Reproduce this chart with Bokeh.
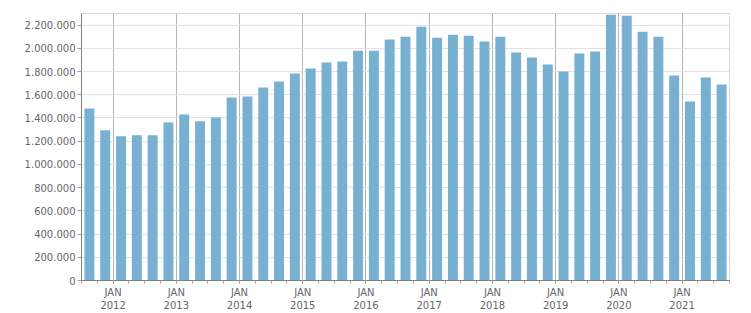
from bokeh.plotting import figure
from bokeh.models import ColumnDataSource, FixedTicker, Range1d
from bokeh.embed import file_html
from bokeh.resources import INLINE

# Quarterly values, Q3 2011 .. Q3 2021
quarters = [
    "2011Q3", "2011Q4",
    "2012Q1", "2012Q2", "2012Q3", "2012Q4",
    "2013Q1", "2013Q2", "2013Q3", "2013Q4",
    "2014Q1", "2014Q2", "2014Q3", "2014Q4",
    "2015Q1", "2015Q2", "2015Q3", "2015Q4",
    "2016Q1", "2016Q2", "2016Q3", "2016Q4",
    "2017Q1", "2017Q2", "2017Q3", "2017Q4",
    "2018Q1", "2018Q2", "2018Q3", "2018Q4",
    "2019Q1", "2019Q2", "2019Q3", "2019Q4",
    "2020Q1", "2020Q2", "2020Q3", "2020Q4",
    "2021Q1", "2021Q2", "2021Q3",
]
values = [
    1482000, 1294000,
    1242000, 1251000, 1251000, 1362000,
    1431000, 1371000, 1405000, 1577000,
    1585000, 1663000, 1714000, 1783000,
    1826000, 1877000, 1886000, 1980000,
    1980000, 2075000, 2100000, 2186000,
    2092000, 2118000, 2109000, 2058000,
    2100000, 1963000, 1920000, 1860000,
    1800000, 1955000, 1972000, 2289000,
    2281000, 2143000, 2100000, 1766000,
    1543000, 1748000, 1688000,
]
year_labels = ["2012", "2013", "2014", "2015", "2016", "2017", "2018", "2019", "2020", "2021"]
y_ticks = [0, 200000, 400000, 600000, 800000, 1000000, 1200000, 1400000,
           1600000, 1800000, 2000000, 2200000]
y_tick_labels = ["0", "200.000", "400.000", "600.000", "800.000", "1.000.000",
                 "1.200.000", "1.400.000", "1.600.000", "1.800.000", "2.000.000", "2.200.000"]

# x coordinate: quarter index since 2011-07-01, bar at mid-quarter
xs = [i + 0.5 for i in range(len(quarters))]
source = ColumnDataSource(data=dict(x=xs, top=values, q=quarters))

jan_pos = [2 + 4 * i for i in range(len(year_labels))]

p = figure(width=751, height=313, output_backend="svg", toolbar_location=None,
           x_range=Range1d(0, len(quarters)), y_range=Range1d(0, 2300000),
           min_border_left=81, min_border_right=22, min_border_top=13, min_border_bottom=30)

p.vbar(x="x", top="top", width=0.63, source=source, color="#78b0d2", line_color=None)

TEXT = "#66666e"
FONT = "DejaVu Sans"

# x axis
xa = p.xaxis[0]
xa.ticker = FixedTicker(ticks=jan_pos, minor_ticks=list(range(0, len(quarters) + 1)))
xa.major_label_overrides = {pos: "JAN\n" + yl for pos, yl in zip(jan_pos, year_labels)}
xa.major_label_text_font = FONT
xa.major_label_text_font_size = "10px"
xa.major_label_text_color = TEXT
xa.major_label_standoff = 3
xa.axis_line_color = "#808080"
xa.major_tick_line_color = "#a0a0a0"
xa.minor_tick_line_color = "#a0a0a0"
xa.major_tick_in = 0
xa.major_tick_out = 3
xa.minor_tick_in = 0
xa.minor_tick_out = 3

# y axis
ya = p.yaxis[0]
ya.ticker = FixedTicker(ticks=y_ticks, minor_ticks=[])
ya.major_label_overrides = {t: l for t, l in zip(y_ticks, y_tick_labels)}
ya.major_label_text_font = FONT
ya.major_label_text_font_size = "10px"
ya.major_label_text_color = TEXT
ya.major_label_standoff = 2
ya.axis_line_color = "#808080"
ya.major_tick_line_color = "#a0a0a0"
ya.major_tick_in = 0
ya.major_tick_out = 4
ya.minor_tick_line_color = None

# grids
p.xgrid.grid_line_color = "#b4b4b4"
p.xgrid.grid_line_width = 1
p.ygrid.grid_line_color = "#e2e2e2"
p.ygrid.grid_line_width = 1
p.outline_line_color = "#dcdcdc"
p.background_fill_color = "white"
p.border_fill_color = "white"

open("out.html", "w").write(file_html(p, INLINE))
